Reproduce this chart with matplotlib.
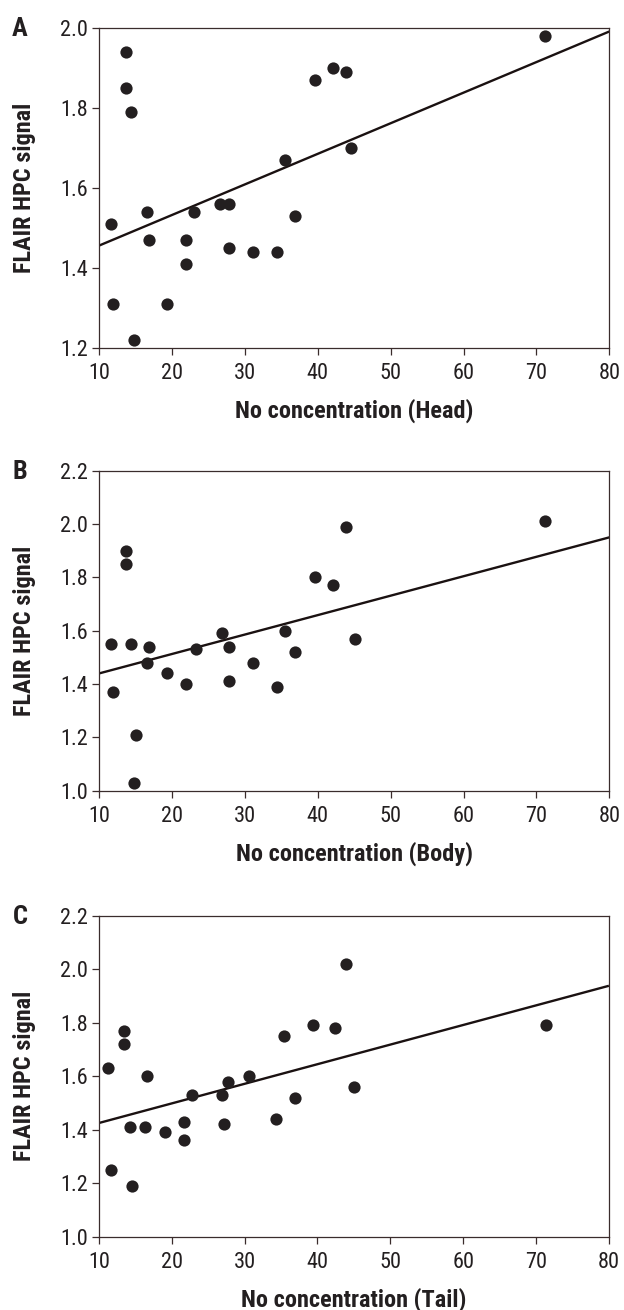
import matplotlib
matplotlib.use("Agg")
import matplotlib.pyplot as plt
from matplotlib import font_manager
import numpy as np

# ---------------- data ----------------
x_head = [11.6, 11.9, 13.6, 13.6, 14.4, 14.7, 16.5, 16.8, 19.3, 21.9, 21.9, 23.0,
          26.6, 27.8, 27.8, 31.1, 34.4, 35.5, 36.9, 39.6, 42.1, 43.9, 44.6, 71.2]
y_head = [1.51, 1.31, 1.94, 1.85, 1.79, 1.22, 1.54, 1.47, 1.31, 1.47, 1.41, 1.54,
          1.56, 1.56, 1.45, 1.44, 1.44, 1.67, 1.53, 1.87, 1.90, 1.89, 1.70, 1.98]

x_body = [11.6, 11.9, 13.6, 13.6, 14.4, 15.1, 14.7, 16.5, 16.8, 19.3, 21.9, 23.3,
          26.9, 27.8, 27.8, 31.1, 34.4, 35.5, 36.9, 39.6, 42.1, 43.9, 45.1, 71.2]
y_body = [1.55, 1.37, 1.90, 1.85, 1.55, 1.21, 1.03, 1.48, 1.54, 1.44, 1.40, 1.53,
          1.59, 1.54, 1.41, 1.48, 1.39, 1.60, 1.52, 1.80, 1.77, 1.99, 1.57, 2.01]

x_tail = [11.3, 11.7, 13.5, 13.5, 14.2, 14.6, 16.3, 16.6, 19.1, 21.7, 21.7, 22.8,
          26.9, 27.2, 27.7, 30.6, 34.3, 35.4, 36.9, 39.4, 42.4, 43.9, 45.0, 71.3]
y_tail = [1.63, 1.25, 1.77, 1.72, 1.41, 1.19, 1.41, 1.60, 1.39, 1.43, 1.36, 1.53,
          1.53, 1.42, 1.58, 1.60, 1.44, 1.75, 1.52, 1.79, 1.78, 2.02, 1.56, 1.79]

# fitted regression lines (value at x=10 and x=80)
fit_x = [10, 80]
fit_head = [1.456, 1.992]
fit_body = [1.440, 1.950]
fit_tail = [1.425, 1.938]

panel_letters = ["A", "B", "C"]
xlabels = ["No concentration (Head)", "No concentration (Body)", "No concentration (Tail)"]
ylabel = "FLAIR HPC signal"
ylims = [(1.2, 2.0), (1.0, 2.2), (1.0, 2.2)]
yticks = [[1.2, 1.4, 1.6, 1.8, 2.0], [1.0, 1.2, 1.4, 1.6, 1.8, 2.0, 2.2],
          [1.0, 1.2, 1.4, 1.6, 1.8, 2.0, 2.2]]
xticks = [10, 20, 30, 40, 50, 60, 70, 80]

# ---------------- style ----------------
names = {f.name for f in font_manager.fontManager.ttflist}
FONT = None
for cand in ['Liberation Sans Narrow', 'Roboto Condensed', 'Open Sans Condensed',
             'DejaVu Sans Condensed', 'Noto Sans Condensed']:
    if cand in names:
        FONT = cand
        break
STRETCH = 'normal'
if FONT is None:
    dj = [f for f in font_manager.fontManager.ttflist
          if f.name == 'DejaVu Sans' and f.stretch == 'condensed']
    if dj:
        FONT = 'DejaVu Sans'
        STRETCH = 'condensed'
    else:
        FONT = 'Roboto' if 'Roboto' in names else 'Liberation Sans'
plt.rcParams['font.family'] = [FONT, 'DejaVu Sans']
plt.rcParams['font.stretch'] = STRETCH
TXT = '#231f20'
SPINE = '#3a2c2c'

W, H = 624, 1310
fig = plt.figure(figsize=(W / 100, H / 100), dpi=100)

ax_rects = [
    (99.3, 28.3, 609.3, 347.7),
    (99.3, 470.7, 609.3, 790.7),
    (98.9, 915.7, 608.9, 1236.7),
]
datasets = [(x_head, y_head, fit_head), (x_body, y_body, fit_body), (x_tail, y_tail, fit_tail)]

for i, ((l, t, r, b), (xs, ys, fit)) in enumerate(zip(ax_rects, datasets)):
    ax = fig.add_axes([l / W, 1 - b / H, (r - l) / W, (b - t) / H])
    ax.plot(fit_x, fit, color='#1a1111', lw=1.7, zorder=2, solid_capstyle='butt')
    ax.plot(xs, ys, 'o', color=TXT, ms=8.8, mec='none', zorder=3, clip_on=False)
    ax.set_xlim(10, 80)
    ax.set_ylim(*ylims[i])
    ax.set_xticks(xticks)
    ax.set_yticks(yticks[i])
    ax.set_yticklabels([f"{v:.1f}" for v in yticks[i]])
    for s in ax.spines.values():
        s.set_color(SPINE)
        s.set_linewidth(0.9)
    ax.tick_params(direction='out', length=5, width=0.9, color=SPINE,
                   labelsize=16, labelcolor=TXT)
    ax.tick_params(axis='x', pad=6)
    ax.tick_params(axis='y', pad=3)
    hpx = b - t
    wpx = r - l
    ax.set_xlabel(xlabels[i], fontsize=17.5, fontweight='bold', color=TXT, va='center')
    ax.xaxis.set_label_coords(0.5, -(411 - 347.7) / hpx)
    ax.set_ylabel(ylabel, fontsize=17.5, fontweight='bold', color=TXT, va='center')
    ax.yaxis.set_label_coords((25 - l) / wpx, 0.5)
    fig.text(20 / W, 1 - (t + 1) / H, panel_letters[i], fontsize=19, fontweight='bold',
             color=TXT, ha='center', va='center')

fig.savefig("out.png", dpi=100, facecolor='white')
